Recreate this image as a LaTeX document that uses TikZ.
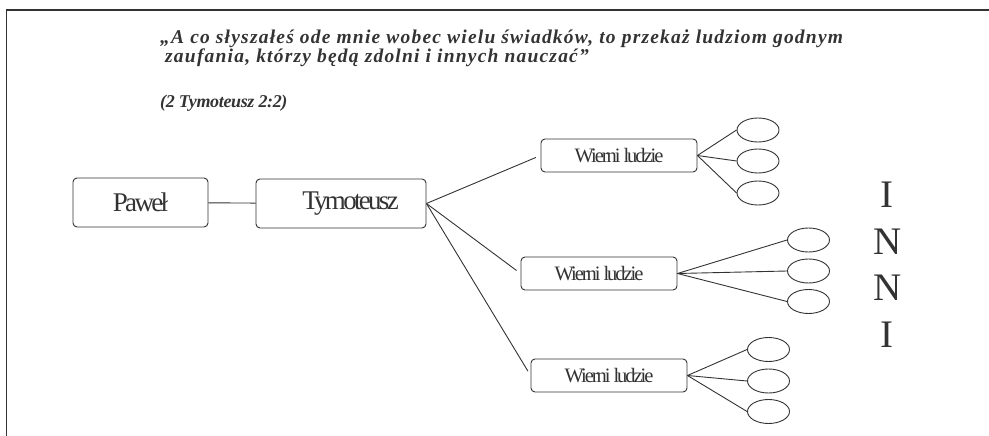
\documentclass[tikz,border=0pt]{standalone}
\usepackage{fontspec}
\usetikzlibrary{shapes.geometric}
\setmainfont{Liberation Serif}
\newfontfamily\qfont[LetterSpace=6.2]{Liberation Serif}
\newfontfamily\rfont[LetterSpace=-2]{Liberation Serif}
\newfontfamily\bxfont[LetterSpace=-10]{Liberation Serif}
\definecolor{ink}{HTML}{333333}
\begin{document}
\begin{tikzpicture}[x=1pt,y=-1pt,
  box/.style={draw=ink,line width=0.9pt,rounded corners=4pt,inner sep=0pt,text=ink},
  bigbox/.style={box,minimum height=49pt,font=\bxfont\fontsize{27}{30}\selectfont},
  smallbox/.style={box,minimum width=156pt,minimum height=33pt,font=\bxfont\fontsize{20.5}{24}\selectfont},
  oval/.style={draw=ink,line width=0.9pt,ellipse,minimum width=42pt,minimum height=24pt,inner sep=0pt},
  link/.style={draw=ink,line width=0.9pt},
  quote/.style={anchor=base west,inner sep=0pt,text=ink,font=\qfont\bfseries\itshape\fontsize{19.5}{17}\selectfont},
  letter/.style={inner sep=0pt,text=ink,font=\fontsize{39}{44}\selectfont}]
\useasboundingbox (0,0) rectangle (989,436);
\draw[ink,line width=1.3pt] (989,10) -- (6.5,10) -- (6.5,436);
\node[quote] (q1) at (160,44) {\vtop{\baselineskip=17pt\hbox{„A co słyszałeś ode mnie wobec wielu świadków, to przekaż ludziom godnym}\hbox{\hspace{5pt}zaufania, którzy będą zdolni i innych nauczać”}}};
\node[quote,font=\rfont\bfseries\itshape\fontsize{18}{22}\selectfont] (q3) at (160,108) {(2 Tymoteusz 2:2)};
\node[bigbox,minimum width=135pt] (pawel) at (140.5,202.5) {Paweł\hspace{22pt}};
\node[bigbox,minimum width=170pt] (tym) at (341,203.5) {\hspace{19pt}Tymoteusz};
\draw[link] (pawel) -- (tym);
\node[smallbox] (w1) at (619,155.5) {Wierni ludzie};
\node[smallbox] (w2) at (599,273.5) {Wierni ludzie};
\node[smallbox] (w3) at (609,375.5) {Wierni ludzie};
\foreach \w in {w1,w2,w3} \draw[link,shorten >=5pt] (tym.east) -- (\w.west);
\node[oval] (a1) at (758,130) {};
\node[oval] (a2) at (758,161) {};
\node[oval] (a3) at (758,193) {};
\node[oval] (b1) at (808.5,240) {};
\node[oval] (b2) at (808.5,271) {};
\node[oval] (b3) at (808.5,301.5) {};
\node[oval] (c1) at (768.5,349.5) {};
\node[oval] (c2) at (768.5,381) {};
\node[oval] (c3) at (768.5,411.5) {};
\foreach \e in {a1,a2,a3} \draw[link] (w1.east) -- (\e.west);
\foreach \e in {b1,b2,b3} \draw[link] (w2.east) -- (\e.west);
\foreach \e in {c1,c2,c3} \draw[link] (w3.east) -- (\e.west);
\node[letter] (l1) at (887,195) {I};
\node[letter] (l2) at (888,242) {N};
\node[letter] (l3) at (888,288) {N};
\node[letter] (l4) at (887,335) {I};
\end{tikzpicture}
\end{document}
